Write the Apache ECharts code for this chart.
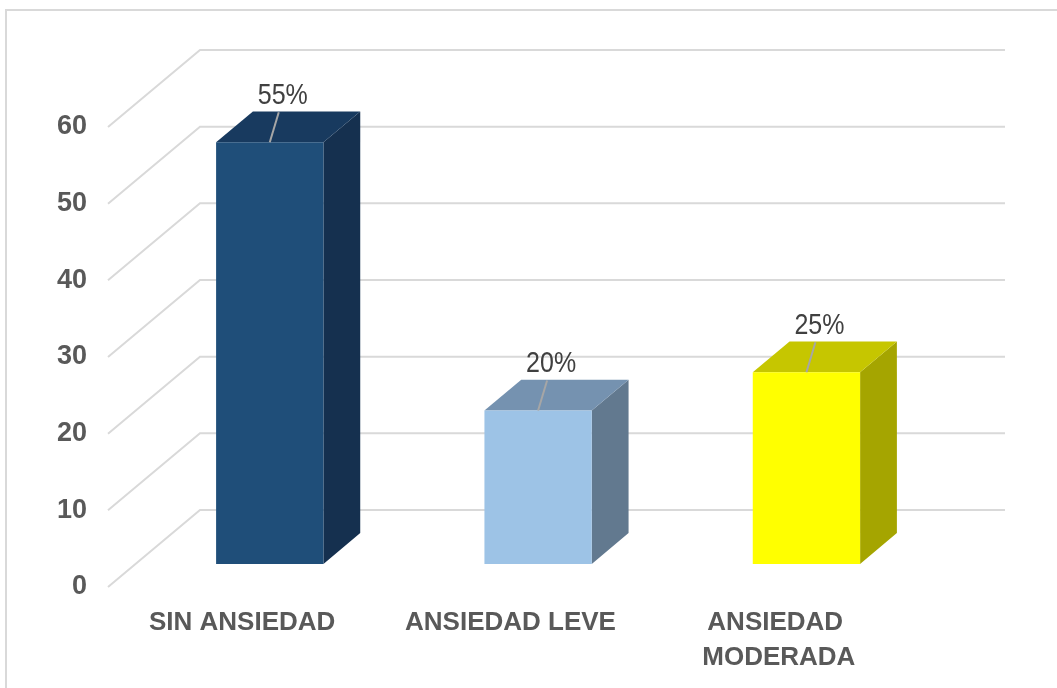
<!DOCTYPE html>
<html><head><meta charset="utf-8">
<script src="https://cdn.jsdelivr.net/npm/echarts@6/dist/echarts.min.js"></script>
<style>html,body{margin:0;padding:0;background:#fff}#c{width:1057px;height:688px}</style>
</head><body><div id="c"></div>
<script>
const categories = ['SIN ANSIEDAD', 'ANSIEDAD LEVE', 'ANSIEDAD MODERADA'];
const values = [55, 20, 25];
const yTicks = [0, 10, 20, 30, 40, 50, 60];

const FACE = ['#1F4E79', '#9DC3E6', '#FFFF00'];
const TOPC = ['#183A5F', '#7592B0', '#C6C600'];
const SIDE = ['#15304F', '#62798F', '#A5A500'];
const DX = 92, DY = -77, F0 = 0.3, F1 = 0.7, BARW = 0.4;
const FONT = '"Liberation Sans", Arial, sans-serif';

const chart = echarts.init(document.getElementById('c'), null, {renderer: 'canvas'});
chart.setOption({
  animation: false,
  graphic: [{type: 'rect', silent: true, z: -10,
    shape: {x: 6, y: 10, width: 1100, height: 720},
    style: {fill: 'none', stroke: '#D9D9D9', lineWidth: 2}}],
  grid: {left: 108, right: 144, top: 127, bottom: 101},
  xAxis: {type: 'category', data: categories,
    axisLine: {show: false}, axisTick: {show: false}, splitLine: {show: false},
    axisLabel: {interval: 0, margin: 18, fontFamily: FONT, fontSize: 26, fontWeight: 'bold',
      color: '#595959', lineHeight: 35, width: 240, overflow: 'break'}},
  yAxis: {type: 'value', min: 0, max: 60, interval: 10,
    splitLine: {show: false}, axisLine: {show: false}, axisTick: {show: false},
    axisLabel: {margin: 21, fontFamily: FONT, fontSize: 27, fontWeight: 'bold', color: '#595959'}},
  series: [
    {type: 'custom', z: 1, silent: true, data: yTicks.map(v => [0, v]),
      renderItem(params, api) {
        const cs = params.coordSys;
        const y = api.coord([0, api.value(1)])[1];
        const x0 = cs.x, x1 = cs.x + cs.width;
        return {type: 'polyline',
          shape: {points: [[x0, y], [x0 + DX, y + DY], [x1 + DX, y + DY]]},
          style: {stroke: '#D9D9D9', lineWidth: 2, fill: null}};
      }},
    {type: 'custom', z: 2, silent: true, data: values.map((v, i) => [i, v]),
      renderItem(params, api) {
        const i = api.value(0), v = api.value(1);
        const base = api.coord([i, 0]), top = api.coord([i, v]);
        const band = api.size([1, 0])[0];
        const w = band * BARW;
        const ox = F0 * DX, oy = F0 * DY, dx = (F1 - F0) * DX, dy = (F1 - F0) * DY;
        const xl = base[0] - w / 2 + ox, xr = base[0] + w / 2 + ox;
        const yb = base[1] + oy, yt = top[1] + oy;
        const cx = (xl + xr) / 2;
        return {type: 'group', children: [
          {type: 'polygon', shape: {points: [[xr, yt], [xr + dx, yt + dy], [xr + dx, yb + dy], [xr, yb]]},
            style: {fill: SIDE[i]}},
          {type: 'polygon', shape: {points: [[xl, yt], [xr, yt], [xr + dx, yt + dy], [xl + dx, yt + dy]]},
            style: {fill: TOPC[i]}},
          {type: 'rect', shape: {x: xl, y: yt, width: w, height: yb - yt},
            style: {fill: FACE[i]}},
          {type: 'line', shape: {x1: cx, y1: yt, x2: cx + 9, y2: yt - 30},
            style: {stroke: '#A6A6A6', lineWidth: 2}},
          {type: 'text', x: cx + 13, y: yt - 46, scaleY: 1.15,
            style: {text: v + '%', fontFamily: FONT, fontSize: 25, fill: '#404040',
              align: 'center', verticalAlign: 'middle'}}
        ]};
      }}
  ]
});
</script></body></html>
